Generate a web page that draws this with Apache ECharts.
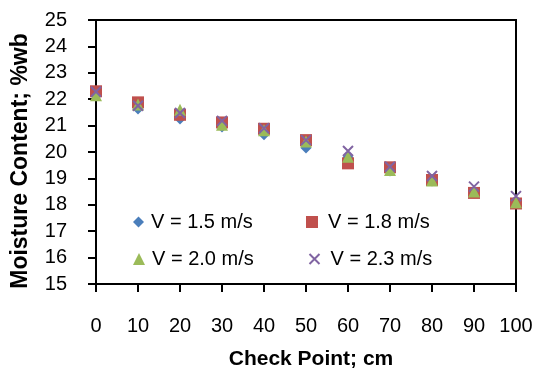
<!DOCTYPE html>
<html>
<head>
<meta charset="utf-8">
<script src="https://cdn.jsdelivr.net/npm/echarts@6/dist/echarts.min.js"></script>
<style>html,body{margin:0;padding:0;background:#fff;}#chart{width:534px;height:370px;}</style>
</head>
<body>
<div id="chart"></div>
<script>
const checkPoints = [0, 10, 20, 30, 40, 50, 60, 70, 80, 90, 100];
const v15 = [22.2, 21.63, 21.25, 20.95, 20.65, 20.15, 19.8, 19.28, 18.9, 18.45, 18.05];
const v18 = [22.3, 21.88, 21.41, 21.12, 20.88, 20.45, 19.57, 19.42, 18.94, 18.45, 18.05];
const v20 = [22.15, 21.8, 21.6, 21.03, 20.82, 20.4, 19.82, 19.32, 18.92, 18.5, 18.1];
const v23 = [22.28, 21.75, 21.48, 21.18, 20.9, 20.45, 20.04, 19.44, 19.09, 18.69, 18.33];
const seriesNames = ['V = 1.5 m/s', 'V = 1.8 m/s', 'V = 2.0 m/s', 'V = 2.3 m/s'];
const xTitle = 'Check Point; cm';
const yTitle = 'Moisture Content; %wb';

const FONT = 'Liberation Sans, Arial, sans-serif';
const crossPath = 'path://M0,0 L10,10 M10,0 L0,10';
const pairs = arr => checkPoints.map((x, i) => [x, arr[i]]);
const BLUE = '#4A7EBB', RED = '#C0504D', GREEN = '#9BBB59', PURPLE = '#8064A2';

const chart = echarts.init(document.getElementById('chart'), null, {renderer: 'canvas'});

function legendAt(name, left, top, icon, size, itemStyle, pad) {
  return {
    data: [{name: name, icon: icon, itemStyle: itemStyle}], left: left, top: top, orient: 'horizontal',
    itemWidth: size, itemHeight: size, padding: 0,
    itemStyle: itemStyle,
    textStyle: {fontFamily: FONT, fontSize: 20, color: '#000', padding: [0, 0, 0, pad]},
    selectedMode: false
  };
}

const option = {
  backgroundColor: '#fff',
  animation: false,
  grid: {left: 96, right: 18, top: 20, bottom: 86, show: true, borderColor: '#000', borderWidth: 2, backgroundColor: 'transparent', outerBoundsMode: 'none'},
  xAxis: {
    type: 'value', min: 0, max: 100, interval: 10,
    axisLine: {show: true, lineStyle: {color: '#000', width: 2}},
    axisTick: {show: true, inside: false, length: 8, lineStyle: {color: '#000', width: 2}},
    axisLabel: {fontFamily: FONT, fontSize: 20, color: '#000', margin: 32},
    splitLine: {show: false}
  },
  yAxis: {
    type: 'value', min: 15, max: 25, interval: 1,
    axisLine: {show: true, lineStyle: {color: '#000', width: 2}},
    axisTick: {show: true, inside: false, length: 8, lineStyle: {color: '#000', width: 2}},
    axisLabel: {fontFamily: FONT, fontSize: 20, color: '#000', margin: 29, align: 'right'},
    splitLine: {show: false}
  },
  legend: [
    legendAt(seriesNames[0], 133, 212, 'diamond', 11, {color: BLUE}, 2),
    legendAt(seriesNames[1], 306, 212, 'rect', 12, {color: RED}, 5),
    legendAt(seriesNames[2], 133, 249, 'triangle', 12, {color: GREEN}, 2),
    legendAt(seriesNames[3], 307, 249, crossPath, 10, {color: 'none', borderColor: PURPLE, borderWidth: 2}, 6)
  ],
  graphic: [
    {type: 'text', x: 311, y: 359, style: {text: xTitle, font: 'bold 21px ' + FONT, fill: '#000', align: 'center', verticalAlign: 'middle'}},
    {type: 'text', x: 21, y: 161, rotation: Math.PI / 2, style: {text: yTitle, font: 'bold 23px ' + FONT, fill: '#000', align: 'center', verticalAlign: 'middle'}}
  ],
  series: [
    {name: seriesNames[0], type: 'scatter', data: pairs(v15), symbol: 'diamond', symbolSize: 11, itemStyle: {color: BLUE, opacity: 1}},
    {name: seriesNames[1], type: 'scatter', data: pairs(v18), symbol: 'rect', symbolSize: 12, itemStyle: {color: RED, opacity: 1}},
    {name: seriesNames[2], type: 'scatter', data: pairs(v20), symbol: 'triangle', symbolSize: 12, itemStyle: {color: GREEN, opacity: 1}},
    {name: seriesNames[3], type: 'scatter', data: pairs(v23), symbol: crossPath, symbolSize: 10, itemStyle: {color: 'none', borderColor: PURPLE, borderWidth: 2, opacity: 1}}
  ]
};
chart.setOption(option);
</script>
</body>
</html>
